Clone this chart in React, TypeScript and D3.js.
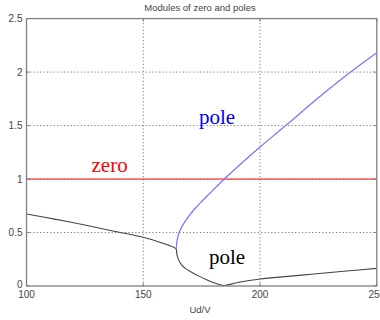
import React from "react";
import * as d3 from "d3";

const title = "Modules of zero and poles";
const xLabel = "Ud/V";
const xTicks = [100, 150, 200, 250];
const yTicks = [0, 0.5, 1, 1.5, 2, 2.5];
const yTickLabels = ["0", "0.5", "1", "1.5", "2", "2.5"];

// black pole curve (lower branch)
const blackX = [100, 112, 125, 137, 150, 157, 164.1, 164.3, 164.7, 165.3, 166.5, 168, 170.3, 174, 177.4, 181, 184.5, 190, 200, 212, 223, 237, 250];
const blackY = [0.673, 0.625, 0.57, 0.515, 0.455, 0.41, 0.345, 0.31, 0.27, 0.235, 0.195, 0.165, 0.134, 0.09, 0.056, 0.025, 0.005, 0.03, 0.065, 0.09, 0.112, 0.14, 0.165];

// blue pole curve (upper branch)
const blueX = [164.1, 164.3, 164.7, 165.4, 166.4, 167.8, 169.6, 172, 175, 178.2, 184.7, 192.2, 200, 211, 225, 238.8, 250];
const blueY = [0.345, 0.4, 0.45, 0.5, 0.55, 0.6, 0.655, 0.72, 0.79, 0.86, 1.0, 1.15, 1.3, 1.5, 1.76, 2.0, 2.18];

// zero curve
const zeroX = [100, 250];
const zeroY = [1, 1];

const W = 380;
const H = 320;

export default function App() {
  const x = d3.scaleLinear().domain([100, 250]).range([26.5, 376.8]);
  const y = d3.scaleLinear().domain([0, 2.5]).range([286, 18.6]);
  const line = d3
    .line<[number, number]>()
    .x((d) => x(d[0]))
    .y((d) => y(d[1]))
    .curve(d3.curveCatmullRom.alpha(0.5));
  const pts = (xs: number[], ys: number[]) => xs.map((v, i) => [v, ys[i]] as [number, number]);
  const [x0, x1] = x.range();
  const [yb, yt] = y.range();
  const font = "'Liberation Sans', Arial, sans-serif";
  const serif = "'Liberation Serif', 'Times New Roman', serif";
  return (
    <svg
      width={W}
      height={H}
      style={{ position: "fixed", left: 0, top: 0, background: "#fff" }}
    >
      <rect x={0} y={0} width={W} height={H} fill="#fff" />
      {/* grid */}
      {xTicks.slice(1, -1).map((t) => (
        <line key={"gx" + t} x1={x(t)} x2={x(t)} y1={yb} y2={yt} stroke="#777" strokeDasharray="1.2,2.2" strokeWidth={1} />
      ))}
      {yTicks.slice(1, -1).map((t) => (
        <line key={"gy" + t} x1={x0} x2={x1} y1={y(t)} y2={y(t)} stroke="#777" strokeDasharray="1.2,2.2" strokeWidth={1} />
      ))}
      {/* curves */}
      <path d={line(pts(zeroX, zeroY)) || ""} fill="none" stroke="#ff3b3b" strokeWidth={1.3} />
      <path d={line(pts(blackX, blackY)) || ""} fill="none" stroke="#444" strokeWidth={1.1} />
      <path d={line(pts(blueX, blueY)) || ""} fill="none" stroke="#7474ff" strokeWidth={1.2} />
      {/* axes box */}
      <rect x={x0} y={yt} width={x1 - x0} height={yb - yt} fill="none" stroke="#808080" strokeWidth={1.3} />
      {/* ticks */}
      {xTicks.map((t) => (
        <g key={"tx" + t}>
          <line x1={x(t)} x2={x(t)} y1={yb} y2={yb - 3} stroke="#808080" />
          <line x1={x(t)} x2={x(t)} y1={yt} y2={yt + 3} stroke="#808080" />
          <text x={x(t)} y={yb + 12} textAnchor="middle" fontFamily={font} fontSize={10} fill="#444">
            {t}
          </text>
        </g>
      ))}
      {yTicks.map((t, i) => (
        <g key={"ty" + t}>
          <line x1={x0} x2={x0 + 3} y1={y(t)} y2={y(t)} stroke="#808080" />
          <line x1={x1} x2={x1 - 3} y1={y(t)} y2={y(t)} stroke="#808080" />
          <text x={x0 - 4} y={y(t) + 3.5 - (t === 0 ? 2 : 0)} textAnchor="end" fontFamily={font} fontSize={10} fill="#444">
            {yTickLabels[i]}
          </text>
        </g>
      ))}
      {/* title and label */}
      <text x={200} y={10.5} textAnchor="middle" fontFamily={font} fontSize={9.5} fill="#444">
        {title}
      </text>
      <text x={200} y={312.5} textAnchor="middle" fontFamily={font} fontSize={9.5} fill="#444">
        {xLabel}
      </text>
      {/* annotations */}
      <text x={199} y={123.5} fontFamily={serif} fontSize={21} fill="#0000ff">pole</text>
      <text x={91.5} y={172.3} fontFamily={serif} fontSize={21} fill="#ff0000">zero</text>
      <text x={209} y={263.5} fontFamily={serif} fontSize={21} fill="#000">pole</text>
    </svg>
  );
}
